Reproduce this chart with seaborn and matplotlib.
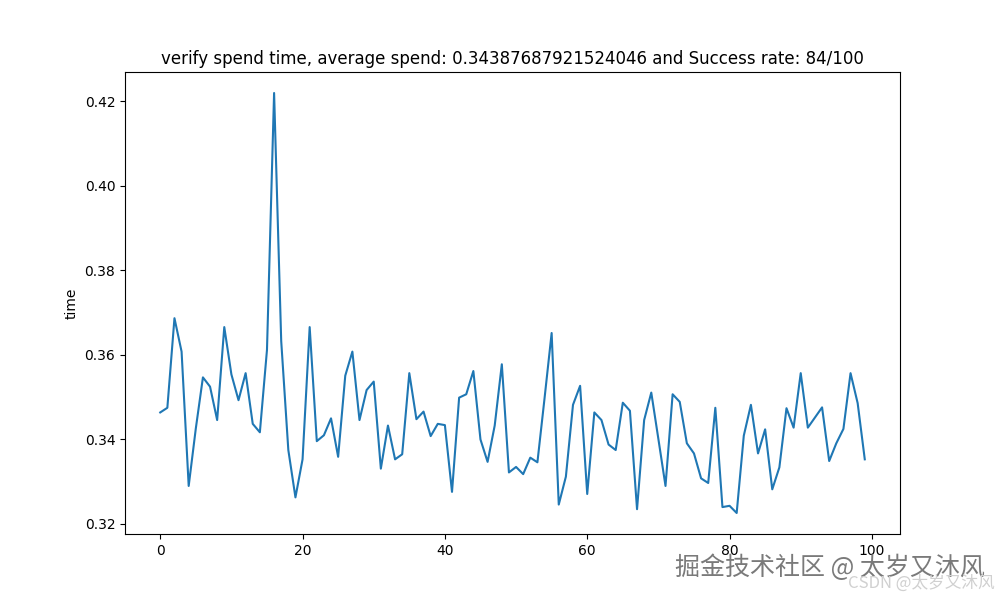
import numpy as np
import pandas as pd
import matplotlib
matplotlib.use("Agg")
import matplotlib.pyplot as plt
import seaborn as sns

# per-run verify time (seconds)
spend_times = [
    0.3463, 0.3474, 0.3686, 0.3607, 0.3289, 0.3425, 0.3546, 0.3524, 0.3445, 0.3665,
    0.3553, 0.3492, 0.3556, 0.3436, 0.3416, 0.3611, 0.4219, 0.3632, 0.3374, 0.3262,
    0.3352, 0.3665, 0.3395, 0.3409, 0.3449, 0.3358, 0.3550, 0.3607, 0.3445, 0.3516,
    0.3536, 0.3330, 0.3432, 0.3352, 0.3364, 0.3556, 0.3447, 0.3465, 0.3407, 0.3436,
    0.3433, 0.3275, 0.3498, 0.3506, 0.3561, 0.3399, 0.3346, 0.3432, 0.3577, 0.3321,
    0.3334, 0.3317, 0.3356, 0.3345, 0.3496, 0.3651, 0.3245, 0.3311, 0.3481, 0.3526,
    0.3270, 0.3463, 0.3445, 0.3387, 0.3374, 0.3486, 0.3467, 0.3234, 0.3445, 0.3510,
    0.3400, 0.3289, 0.3506, 0.3488, 0.3390, 0.3366, 0.3307, 0.3296, 0.3474, 0.3239,
    0.3242, 0.3225, 0.3408, 0.3481, 0.3366, 0.3423, 0.3281, 0.3333, 0.3473, 0.3427,
    0.3556, 0.3427, 0.3451, 0.3475, 0.3348, 0.3390, 0.3424, 0.3556, 0.3485, 0.3352,
]
run_index = list(range(len(spend_times)))

title_text = "verify spend time, average spend: 0.34387687921524046 and Success rate: 84/100"
watermark_main = "掘金技术社区 @ 太岁又沐风"
watermark_csdn = "CSDN @太岁又沐风"

plt.style.use("default")
plt.rcParams["font.family"] = ["DejaVu Sans", "Noto Sans CJK SC"]

df = pd.DataFrame({"run": run_index, "time": spend_times})

fig, ax = plt.subplots(figsize=(10, 6), dpi=100)
sns.lineplot(data=df, x="run", y="time", ax=ax, color="#1f77b4", linewidth=1.5)

ax.set_title(title_text, fontsize=12)
ax.set_xlabel("")
ax.set_ylabel("time")
ax.set_xticks([0, 20, 40, 60, 80, 100])
ax.set_yticks([0.32, 0.34, 0.36, 0.38, 0.40, 0.42])

# watermarks in the bottom right corner
fig.text(0.985, 0.053, watermark_main, ha="right", va="center", fontsize=18,
         color="#7a7a7a", family=["Noto Sans CJK SC", "DejaVu Sans"])
fig.text(0.995, 0.028, watermark_csdn, ha="right", va="center", fontsize=12,
         color="#d0d0d0", family=["Noto Sans CJK SC", "DejaVu Sans"])

fig.savefig("out.png", dpi=100)
